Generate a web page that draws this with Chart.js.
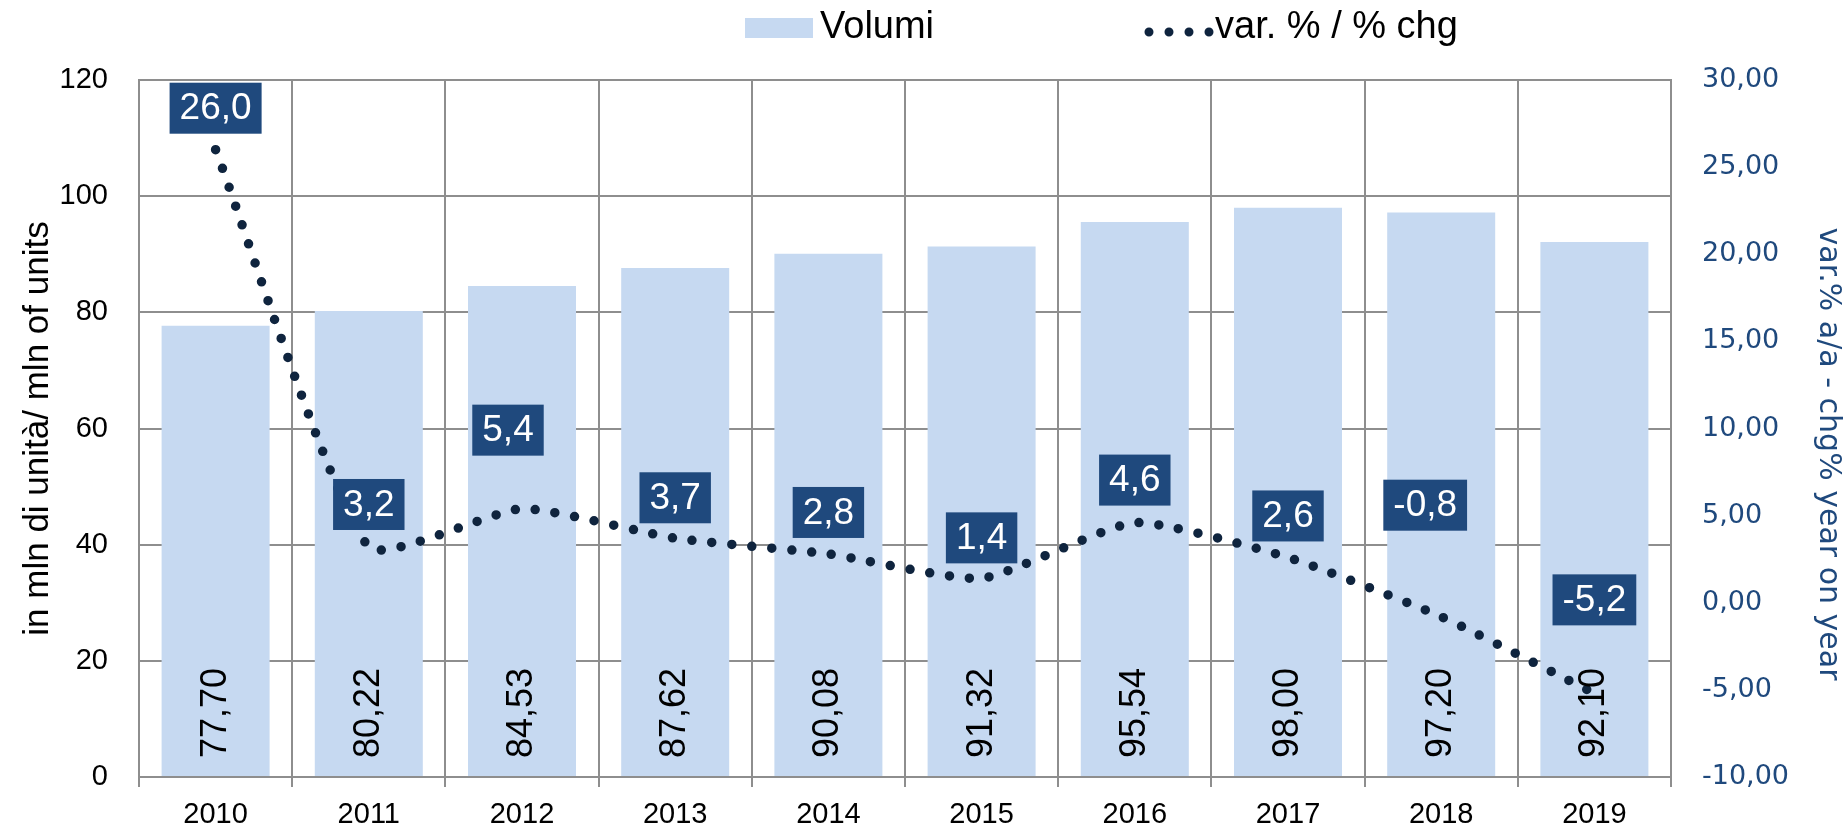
<!DOCTYPE html>
<html>
<head>
<meta charset="utf-8">
<script src="https://cdn.jsdelivr.net/npm/chart.js@4.4.1/dist/chart.umd.min.js"></script>
<style>
  html, body { margin: 0; padding: 0; background: #fff; }
</style>
</head>
<body>
<canvas id="grafico" width="1848" height="829"></canvas>
<script>
// dati
const anni = ['2010', '2011', '2012', '2013', '2014', '2015', '2016', '2017', '2018', '2019'];
const volumi = [77.70, 80.22, 84.53, 87.62, 90.08, 91.32, 95.54, 98.00, 97.20, 92.10];
const variazioni = [26.0, 3.2, 5.4, 3.7, 2.8, 1.4, 4.6, 2.6, -0.8, -5.2];
const tickSinistra = [0, 20, 40, 60, 80, 100, 120];
const tickDestra = [-10, -5, 0, 5, 10, 15, 20, 25, 30];

// stile
const coloreBarre = '#C6D9F1';
const coloreLinea = '#0F243E';
const coloreBlu = '#1F497D';
const coloreGriglia = '#8E8E8E';
const font = '"Liberation Sans", Arial, sans-serif';
const fontDestra = '"DejaVu Sans", Verdana, sans-serif';

// spostamento delle etichette della linea (px sopra il punto / orizzontale)
const alzaEtichetta = [16, 17, 53, 15, 16, 15, 17, 16, 86, 68];
const spostaEtichetta = [0, 0, -14, 0, 0, 0, 0, 0, -16, 0];

const virgola = (v, d) => v.toFixed(d).replace('.', ',');

// etichette dei valori (barre ruotate + riquadri blu della linea)
const etichette = {
    id: 'etichette',
    afterDatasetsDraw(chart) {
        const ctx = chart.ctx;
        const base = chart.scales.y.getPixelForValue(0);
        ctx.save();

        ctx.font = '36px ' + font;
        ctx.fillStyle = '#000';
        ctx.textAlign = 'left';
        ctx.textBaseline = 'middle';
        chart.getDatasetMeta(1).data.forEach((bar, i) => {
            ctx.save();
            ctx.translate(bar.x, base - 19);
            ctx.rotate(-Math.PI / 2);
            ctx.fillText(virgola(volumi[i], 2), 0, 0);
            ctx.restore();
        });

        ctx.font = '37px ' + font;
        ctx.textAlign = 'center';
        chart.getDatasetMeta(0).data.forEach((pt, i) => {
            const testo = virgola(variazioni[i], 1);
            const w = ctx.measureText(testo).width + 20;
            const h = 51;
            const cx = pt.x + spostaEtichetta[i];
            const fondo = pt.y - alzaEtichetta[i];
            ctx.fillStyle = coloreBlu;
            ctx.fillRect(cx - w / 2, fondo - h, w, h);
            ctx.fillStyle = '#fff';
            ctx.fillText(testo, cx, fondo - h / 2 + 1);
        });
        ctx.restore();
    }
};

// legenda in alto e titolo dell'asse destro (un po' sotto il centro, come nell'originale)
const legenda = {
    id: 'legenda',
    afterDraw(chart) {
        const ctx = chart.ctx;
        const ds = chart.data.datasets;
        ctx.save();
        ctx.fillStyle = coloreBarre;
        ctx.fillRect(745, 18, 68, 20);
        ctx.font = '38px ' + font;
        ctx.fillStyle = '#000';
        ctx.textBaseline = 'middle';
        ctx.fillText(ds[1].label, 820, 28);

        ctx.strokeStyle = coloreLinea;
        ctx.lineWidth = 9;
        ctx.lineCap = 'round';
        ctx.setLineDash([0, 20]);
        ctx.beginPath();
        ctx.moveTo(1149, 32);
        ctx.lineTo(1212, 32);
        ctx.stroke();
        ctx.setLineDash([]);
        ctx.fillText(ds[0].label, 1215, 28);

        ctx.translate(1828, 454);
        ctx.rotate(Math.PI / 2);
        ctx.font = '30px ' + fontDestra;
        ctx.fillStyle = coloreBlu;
        ctx.textAlign = 'center';
        ctx.fillText('var.% a/a - chg% year on year', 0, 0);
        ctx.restore();
    }
};

new Chart(document.getElementById('grafico'), {
    type: 'bar',
    data: {
        labels: anni,
        datasets: [{
            type: 'line',
            label: 'var. % / % chg',
            data: variazioni,
            yAxisID: 'y2',
            borderColor: coloreLinea,
            borderWidth: 9.5,
            borderDash: [0, 20],
            borderCapStyle: 'round',
            pointRadius: 0,
            tension: 0.17,
            fill: false,
            order: 0
        }, {
            label: 'Volumi',
            data: volumi,
            yAxisID: 'y',
            backgroundColor: coloreBarre,
            barPercentage: 0.705,
            categoryPercentage: 1,
            order: 1
        }]
    },
    options: {
        responsive: false,
        animation: false,
        layout: { padding: { top: 80, left: 0, right: 0, bottom: 0 } },
        plugins: {
            legend: { display: false },
            tooltip: { enabled: false }
        },
        scales: {
            x: {
                grid: { color: coloreGriglia, lineWidth: 2, offset: true, tickLength: 10 },
                border: { color: coloreGriglia, width: 2 },
                ticks: { color: '#000', font: { family: font, size: 29 }, padding: 11 },
                afterFit: s => { s.height = 52; }
            },
            y: {
                position: 'left',
                min: tickSinistra[0],
                max: tickSinistra[tickSinistra.length - 1],
                ticks: { stepSize: tickSinistra[1] - tickSinistra[0], color: '#000', font: { family: font, size: 29 }, padding: 31 },
                grid: { color: coloreGriglia, lineWidth: 2, drawTicks: false },
                border: { color: coloreGriglia, width: 2 },
                title: {
                    display: true,
                    text: 'in mln di unità/ mln of units',
                    color: '#000',
                    font: { family: font, size: 35, lineHeight: 1 },
                    padding: { top: 21, bottom: 0 }
                },
                afterFit: s => { s.width = 139; }
            },
            y2: {
                position: 'right',
                min: tickDestra[0],
                max: tickDestra[tickDestra.length - 1],
                ticks: {
                    stepSize: tickDestra[1] - tickDestra[0],
                    color: coloreBlu,
                    font: { family: fontDestra, size: 27 },
                    padding: 31,
                    callback: v => virgola(v, 2)
                },
                grid: { display: false, drawTicks: false },
                border: { color: coloreGriglia, width: 2 },
                afterFit: s => { s.width = 177; }
            }
        }
    },
    plugins: [etichette, legenda]
});
</script>
</body>
</html>
